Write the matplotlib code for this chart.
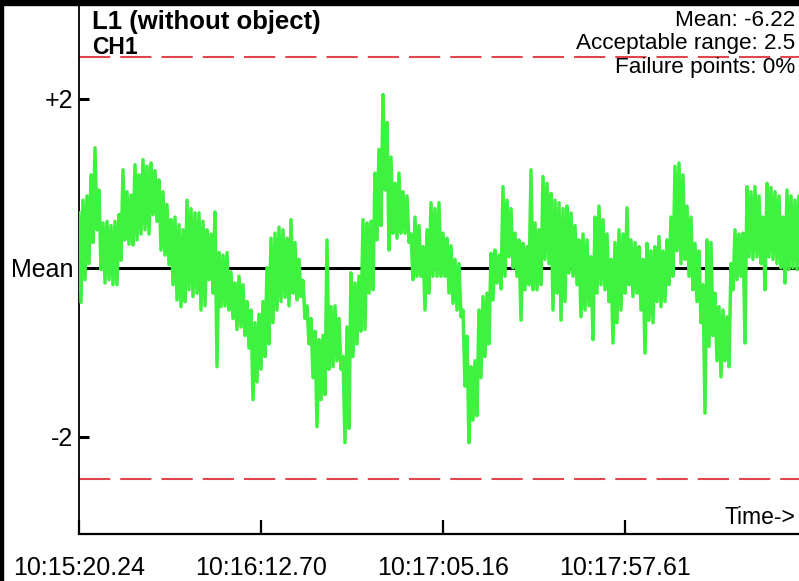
import numpy as np
import matplotlib
matplotlib.use("Agg")
import matplotlib.pyplot as plt
from matplotlib.patches import Rectangle

plt.rcParams['font.family'] = ['Liberation Sans', 'DejaVu Sans']

# the trace is a dense noisy signal: per time slot, the top and bottom it reaches
# (deviation from the channel mean) left to right
dev_hi = [
    0.65, 0.80, 0.85, 1.10, 1.42, 0.92, 0.53, 0.55, 0.50, 0.55,
    0.63, 1.16, 0.90, 0.86, 1.22, 1.10, 1.28, 1.20, 1.24, 1.15,
    1.04, 0.90, 0.75, 0.57, 0.60, 0.51, 0.45, 0.80, 0.70, 0.65,
    0.65, 0.55, 0.45, 0.40, 0.66, 0.18, 0.15, 0.18, -0.05, -0.18,
    -0.10, -0.20, -0.40, -0.50, -0.65, -0.55, -0.40, 0.00, 0.35, 0.41,
    0.48, 0.45, 0.35, 0.57, 0.30, 0.10, -0.15, -0.45, -0.60, -0.75,
    -0.85, -0.80, 0.33, -0.46, -0.45, -0.60, -1.05, -0.70, -0.06, -0.18,
    -0.10, 0.57, 0.53, 0.55, 1.12, 1.40, 2.05, 1.72, 1.31, 1.00,
    1.12, 0.90, 0.85, 0.40, 0.60, 0.50, 0.25, 0.45, 0.77, 0.70,
    0.77, 0.41, 0.35, 0.26, 0.10, 0.05, -0.50, -0.81, -1.17, -1.10,
    -0.50, -0.34, -0.30, 0.17, 0.21, 0.15, 0.96, 0.80, 0.70, 0.41,
    0.33, 0.29, 0.25, 1.16, 0.53, 0.45, 1.08, 1.00, 0.88, 0.80,
    0.77, 0.70, 0.73, 0.65, 0.50, 0.33, 0.40, 0.33, 0.13, 0.60,
    0.73, 0.57, 0.40, 0.10, 0.30, 0.45, 0.40, 0.71, 0.33, 0.30,
    0.25, 0.10, 0.29, 0.20, 0.25, 0.37, 0.20, 0.33, 0.60, 1.20,
    1.24, 1.10, 0.73, 0.60, 0.29, 0.20, -0.20, 0.33, 0.30, -0.30,
    -0.46, -0.50, -0.58, 0.05, 0.45, 0.40, 0.41, 0.96, 0.90, 0.96,
    0.85, 0.60, 1.00, 0.95, 0.90, 0.85, 0.60, 0.92, 0.85, 0.80,
    0.85,
]
dev_lo = [
    -0.41, -0.14, 0.05, 0.30, 0.45, -0.02, -0.18, -0.14, -0.20, -0.20,
    0.09, 0.33, 0.28, 0.27, 0.33, 0.40, 0.45, 0.40, 0.63, 0.55,
    0.21, 0.15, 0.04, -0.20, -0.38, -0.46, -0.40, -0.26, -0.34, -0.30,
    -0.50, -0.45, -0.14, -0.30, -1.17, -0.46, -0.45, -0.50, -0.60, -0.73,
    -0.70, -0.80, -0.95, -1.56, -1.35, -1.20, -1.05, -0.90, -0.65, -0.50,
    -0.40, -0.35, -0.45, -0.30, -0.38, -0.34, -0.60, -0.90, -1.30, -1.88,
    -1.56, -1.50, -1.20, -1.17, -1.10, -1.20, -2.07, -1.90, -1.05, -0.90,
    -0.75, -0.73, -0.30, -0.26, 0.33, 0.50, 0.92, 0.21, 0.41, 0.35,
    0.41, 0.41, 0.30, -0.14, -0.10, -0.10, -0.50, -0.30, -0.10, -0.10,
    -0.10, -0.10, -0.30, -0.42, -0.50, -0.58, -1.40, -2.07, -1.80, -1.75,
    -1.30, -1.05, -0.90, -0.38, -0.18, -0.25, -0.10, 0.13, 0.00, -0.10,
    -0.62, -0.26, -0.20, -0.26, -0.26, -0.20, 0.10, 0.05, -0.50, -0.30,
    -0.62, -0.40, -0.06, -0.10, -0.20, -0.58, -0.50, -0.45, -0.85, -0.30,
    -0.20, -0.26, -0.40, -0.89, -0.65, -0.50, -0.30, -0.20, -0.34, -0.30,
    -0.50, -1.01, -0.62, -0.65, -0.40, -0.46, -0.40, -0.20, -0.10, 0.20,
    0.05, 0.10, -0.10, -0.26, -0.40, -0.65, -1.72, -0.93, -0.80, -1.10,
    -1.29, -1.10, -1.17, -0.26, -0.14, -0.10, -0.89, 0.13, 0.10, 0.13,
    0.05, -0.26, 0.13, 0.10, 0.05, 0.00, -0.18, -0.02, 0.00, -0.02,
    0.05,
]
t_span = 207.5          # seconds shown on the axis
tick_secs = [0, 52.46, 104.92, 157.37]
tick_labels = ['10:15:20.24', '10:16:12.70', '10:17:05.16', '10:17:57.61']
ytick_vals = [2, 0, -2]
ytick_labels = ['+2', 'Mean', '-2']
accept = 2.5
info = ['Mean: -6.22', 'Acceptable range: 2.5', 'Failure points: 0%']

# samples alternate top / bottom within each slot
n = len(dev_hi)
step = t_span / (n - 1)
t = np.column_stack([np.arange(n) * step, np.arange(n) * step + step / 2]).ravel()
dev = np.column_stack([dev_hi, dev_lo]).ravel()

fig = plt.figure(figsize=(7.99, 5.81), dpi=100)
ax = fig.add_axes([79/799, 47/581, 720/799, 529/581])

ax.axhline(0, color='black', lw=2.2, zorder=2)
for lvl in (accept, -accept):
    ax.axhline(lvl, color='#e0474c', lw=1.5, dashes=(15, 4.8), zorder=2)
ax.plot(t, dev, color='#3ff23f', lw=2.5, zorder=3)

ax.set_xlim(0, t_span)
ax.set_ylim(-3.15, 3.11)

for s in ('top', 'right'):
    ax.spines[s].set_visible(False)
ax.spines['left'].set_linewidth(1.3)
ax.spines['bottom'].set_linewidth(1.6)

ax.set_yticks(ytick_vals)
ax.set_yticklabels(ytick_labels)
ax.set_xticks(tick_secs)
ax.set_xticklabels(tick_labels)
ax.tick_params(axis='y', direction='in', length=7, width=2.2, pad=4, labelsize=18)
ax.tick_params(axis='x', direction='in', length=10, width=1.6, pad=16, labelsize=18)

ax.text(13/720, 1 - 17/529, 'L1 (without object)', transform=ax.transAxes,
        fontsize=18.5, fontweight='bold', va='center', ha='left')
ax.text(13/720, 1 - 42/529, 'CH1', transform=ax.transAxes,
        fontsize=16.5, fontweight='bold', va='center', ha='left')
for i, line in enumerate(info):
    ax.text(1 - 4/720, 1 - (15 + 23.5*i)/529, line, transform=ax.transAxes,
            fontsize=16.2, va='center', ha='right')
ax.text(1 - 4/720, 16/529, 'Time->', transform=ax.transAxes,
        fontsize=16.5, va='center', ha='right')

# black frame edges of the screenshot
fig.patches.append(Rectangle((0, 1 - 5/581), 1, 5/581, transform=fig.transFigure,
                             color='black', zorder=10))
fig.patches.append(Rectangle((0, 0), 3/799, 1, transform=fig.transFigure,
                             color='black', zorder=10))

fig.savefig('out.png', dpi=100)
